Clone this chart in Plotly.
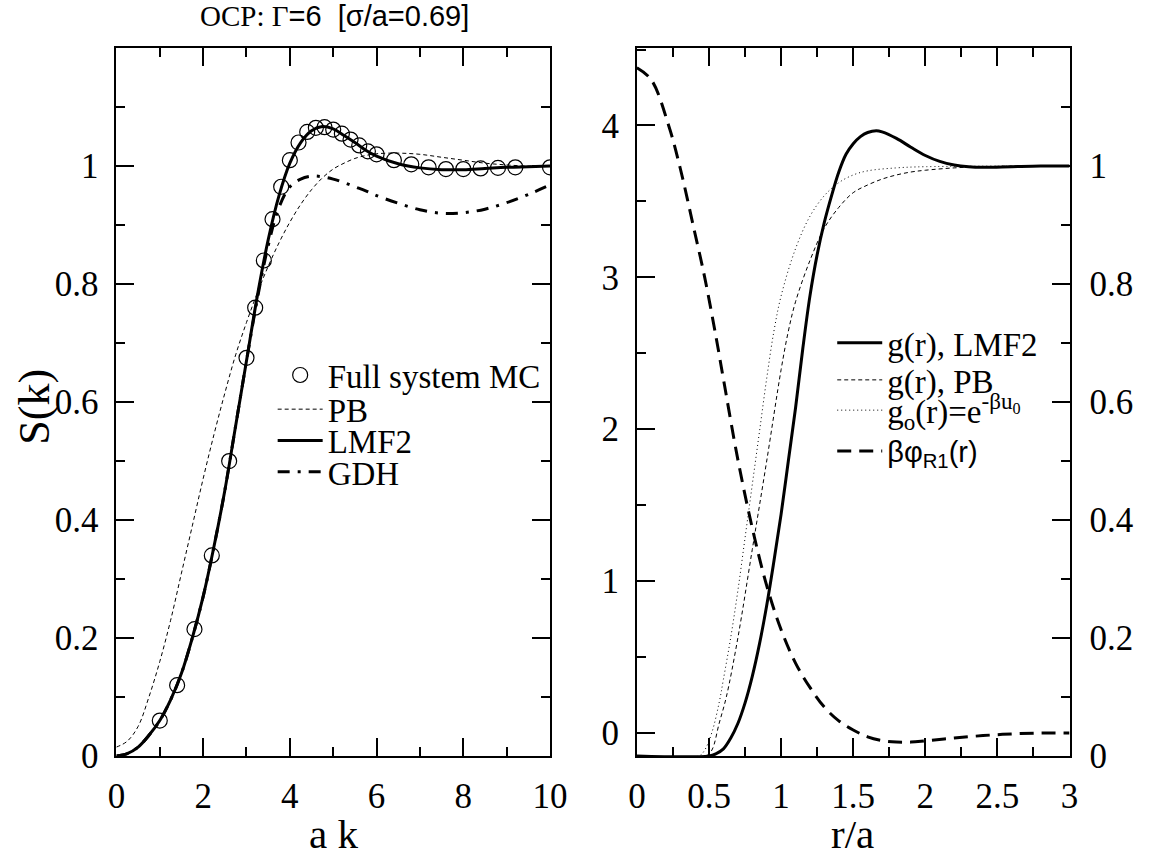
import plotly.graph_objects as go

# ---------------- Left panel data: S(k) ----------------
k_mc = [1.0, 1.4, 1.8, 2.2, 2.6, 3.0, 3.2, 3.4, 3.6, 3.8, 4.0, 4.2, 4.4, 4.6, 4.8,
        5.0, 5.2, 5.4, 5.6, 5.8, 6.0, 6.4, 6.8, 7.2, 7.6, 8.0, 8.4, 8.8, 9.2, 10.0]
s_mc = [0.06, 0.12, 0.215, 0.34, 0.50, 0.675, 0.76, 0.84, 0.91, 0.965, 1.01, 1.04, 1.058,
        1.065, 1.066, 1.062, 1.055, 1.045, 1.035, 1.025, 1.02, 1.01, 1.003, 0.998, 0.995,
        0.995, 0.996, 0.997, 0.998, 0.998]

k_grid = [0, 0.25, 0.5, 0.75, 1.0, 1.25, 1.5, 1.75, 2.0, 2.25, 2.5, 2.75, 3.0, 3.25, 3.5,
          3.75, 4.0, 4.25, 4.5, 4.75, 5.0, 5.25, 5.5, 5.75, 6.0, 6.5, 7.0, 7.5, 8.0, 8.5,
          9.0, 9.5, 10.0]
s_lmf2 = [0.0, 0.004, 0.015, 0.035, 0.06, 0.095, 0.14, 0.2, 0.27, 0.355, 0.45, 0.56, 0.67,
          0.78, 0.875, 0.95, 1.005, 1.04, 1.06, 1.067, 1.063, 1.052, 1.04, 1.027, 1.017,
          1.004, 0.997, 0.994, 0.994, 0.996, 0.998, 0.999, 1.0]
s_pb = [0.015, 0.025, 0.05, 0.1, 0.16, 0.23, 0.31, 0.39, 0.47, 0.545, 0.615, 0.68, 0.735,
        0.785, 0.83, 0.87, 0.905, 0.935, 0.96, 0.98, 0.995, 1.005, 1.013, 1.018, 1.021,
        1.022, 1.02, 1.015, 1.01, 1.005, 1.002, 1.0, 1.0]
s_gdh = [0.0, 0.004, 0.015, 0.035, 0.06, 0.095, 0.14, 0.2, 0.27, 0.355, 0.45, 0.56, 0.67,
         0.775, 0.865, 0.93, 0.965, 0.978, 0.983, 0.982, 0.978, 0.972, 0.965, 0.958, 0.95,
         0.937, 0.926, 0.92, 0.921, 0.927, 0.938, 0.952, 0.968]

# ---------------- Right panel data: g(r), phi ----------------
r_lmf2 = [0.0, 0.5, 0.55, 0.6, 0.65, 0.7, 0.75, 0.8, 0.85, 0.9, 0.95, 1.0, 1.05, 1.1, 1.15,
          1.2, 1.25, 1.3, 1.35, 1.4, 1.45, 1.5, 1.55, 1.6, 1.66, 1.7, 1.8, 1.9, 2.0, 2.1,
          2.2, 2.3, 2.4, 2.6, 2.8, 3.0]
g_lmf2 = [0.0, 0.0, 0.004, 0.012, 0.03, 0.055, 0.09, 0.135, 0.19, 0.255, 0.33, 0.41, 0.5,
          0.59, 0.69, 0.78, 0.85, 0.905, 0.95, 0.99, 1.02, 1.038, 1.05, 1.057, 1.06, 1.058,
          1.047, 1.032, 1.018, 1.008, 1.002, 0.999, 0.998, 0.999, 1.0, 1.0]

r_pb = [0.0, 0.48, 0.52, 0.57, 0.62, 0.7, 0.8, 0.9, 1.0, 1.05, 1.1, 1.2, 1.3, 1.4, 1.5, 1.6,
        1.7, 1.8, 1.9, 2.0, 2.2, 2.4, 2.6, 3.0]
g_pb = [0.0, 0.0, 0.01, 0.055, 0.1, 0.2, 0.35, 0.5, 0.655, 0.72, 0.77, 0.84, 0.895, 0.93,
        0.955, 0.968, 0.978, 0.985, 0.99, 0.993, 0.997, 0.999, 1.0, 1.0]

r_g0 = [0.0, 0.43, 0.47, 0.52, 0.57, 0.6, 0.65, 0.7, 0.75, 0.8, 0.85, 0.9, 0.95, 1.0, 1.1,
        1.2, 1.3, 1.4, 1.5, 1.6, 1.8, 2.0, 3.0]
g_g0 = [0.0, 0.0, 0.01, 0.04, 0.09, 0.13, 0.2, 0.28, 0.37, 0.46, 0.55, 0.64, 0.72, 0.78,
        0.86, 0.915, 0.95, 0.972, 0.985, 0.992, 0.997, 0.999, 1.0]

r_phi = [0.0, 0.1, 0.22, 0.3, 0.4, 0.47, 0.55, 0.6, 0.7, 0.8, 0.9, 1.0, 1.1, 1.2, 1.3, 1.4,
         1.5, 1.6, 1.7, 1.8, 1.9, 2.0, 2.2, 2.4, 2.6, 2.8, 3.0]
phi = [4.38, 4.3, 4.0, 3.72, 3.3, 3.0, 2.6, 2.33, 1.8, 1.35, 0.97, 0.68, 0.46, 0.3, 0.17,
       0.08, 0.02, -0.025, -0.05, -0.06, -0.06, -0.052, -0.033, -0.017, -0.006, 0.0, 0.0]

# tick labels
left_xticks = [0, 2, 4, 6, 8, 10]
left_yticks = [0, 0.2, 0.4, 0.6, 0.8, 1.0]
left_yticktext = ["0", "0.2", "0.4", "0.6", "0.8", "1"]
right_xticks = [0, 0.5, 1, 1.5, 2, 2.5, 3]
right_xticktext = ["0", "0.5", "1", "1.5", "2", "2.5", "3"]
phi_yticks = [0, 1, 2, 3, 4]
g_yticks = [0, 0.2, 0.4, 0.6, 0.8, 1.0]
g_yticktext = ["0", "0.2", "0.4", "0.6", "0.8", "1"]

W, H = 1151, 857
SERIF = "Liberation Serif"
SANS = "Liberation Sans"
TICKF = dict(family=SERIF, size=35, color="black")
LEGF = dict(family=SERIF, size=33, color="black")


def px(x):
    return x / W


def py(y):
    return 1 - y / H


fig = go.Figure()

# left panel traces
fig.add_trace(go.Scatter(x=k_mc, y=s_mc, mode="markers", name="Full system MC",
                         marker=dict(symbol="circle-open", size=15, color="black",
                                     line=dict(width=1.2, color="black")),
                         xaxis="x", yaxis="y", legend="legend"))
fig.add_trace(go.Scatter(x=k_grid, y=s_pb, mode="lines", name="PB", line_shape="spline",
                         line=dict(color="black", width=1, dash="4px,3px"),
                         xaxis="x", yaxis="y", legend="legend2"))
fig.add_trace(go.Scatter(x=k_grid, y=s_lmf2, mode="lines", name="LMF2", line_shape="spline",
                         line=dict(color="black", width=3),
                         xaxis="x", yaxis="y", legend="legend3"))
fig.add_trace(go.Scatter(x=k_grid, y=s_gdh, mode="lines", name="GDH", line_shape="spline",
                         line=dict(color="black", width=3, dash="12px,8px,3px,8px"),
                         xaxis="x", yaxis="y", legend="legend4"))

# right panel traces
fig.add_trace(go.Scatter(x=r_lmf2, y=g_lmf2, mode="lines", name="g(r), LMF2", line_shape="spline",
                         line=dict(color="black", width=3),
                         xaxis="x2", yaxis="y3", legend="legend5"))
fig.add_trace(go.Scatter(x=r_pb, y=g_pb, mode="lines", name="g(r), PB", line_shape="spline",
                         line=dict(color="black", width=1, dash="4px,3px"),
                         xaxis="x2", yaxis="y3", legend="legend6"))
fig.add_trace(go.Scatter(x=r_g0, y=g_g0, mode="lines",
                         name="g<sub>o</sub>(r)=e<sup>-βu<sub>0</sub></sup>", line_shape="spline",
                         line=dict(color="black", width=1, dash="1px,3px"),
                         xaxis="x2", yaxis="y3", legend="legend7"))
fig.add_trace(go.Scatter(x=r_phi, y=phi, mode="lines", name="βφ<sub>R1</sub>(r)", line_shape="spline",
                         line=dict(color="black", width=3, dash="14px,8px"),
                         xaxis="x2", yaxis="y2", legend="legend8"))

xl0, xl1 = px(110), px(554)
xr0, xr1 = px(643), px(1086)
yb, yt = py(774), py(49.3)

common = dict(showline=True, linecolor="black", linewidth=2, ticks="inside",
              tickcolor="black", tickwidth=2, ticklen=18, showgrid=False, zeroline=False,
              tickfont=TICKF)


def minor(d):
    return dict(ticks="inside", ticklen=9, tickwidth=2, tickcolor="black", dtick=d,
                tick0=0, showgrid=False)


legend_common = dict(bgcolor="rgba(0,0,0,0)", borderwidth=0, xanchor="left",
                     yanchor="middle", itemwidth=45, tracegroupgap=0)


def leg(x, y, font=LEGF):
    d = dict(legend_common)
    d.update(x=px(x), y=py(y), font=font)
    return d


fig.update_layout(
    width=W, height=H, margin=dict(l=0, r=0, t=0, b=0),
    paper_bgcolor="white", plot_bgcolor="white", showlegend=True,
    xaxis=dict(domain=[xl0, xl1], anchor="y", range=[0, 10], tickmode="array",
               tickvals=left_xticks, mirror="ticks", minor=minor(1),
               ticklabelstandoff=8, **common),
    yaxis=dict(domain=[yb, yt], anchor="x", range=[0, 1.2], tickmode="array",
               tickvals=left_yticks, ticktext=left_yticktext, mirror="ticks",
               minor=minor(0.1), ticklabelstandoff=9, **common),
    xaxis2=dict(domain=[xr0, xr1], anchor="y2", range=[0, 3], tickmode="array",
                tickvals=right_xticks, ticktext=right_xticktext, mirror="ticks",
                minor=minor(0.25), ticklabelstandoff=8, **common),
    yaxis2=dict(domain=[yb, yt], anchor="x2", range=[-0.151, 4.509], tickmode="array",
                tickvals=phi_yticks, minor=minor(0.5), ticklabelstandoff=9, **common),
    yaxis3=dict(domain=[yb, yt], anchor="x2", overlaying="y2", side="right", range=[0, 1.2],
                tickmode="array", tickvals=g_yticks, ticktext=g_yticktext,
                minor=minor(0.1), ticklabelstandoff=11, **common),
    legend=leg(270, 384),
    legend2=leg(270, 419),
    legend3=leg(270, 451),
    legend4=leg(270, 483),
    legend5=leg(843, 351),
    legend6=leg(843, 389),
    legend7=leg(843, 420),
    legend8=leg(843, 462, font=dict(family=SANS, size=29, color="black")),
)

# titles as text annotations
fig.add_annotation(x=px(333), y=py(16), xref="paper", yref="paper", showarrow=False,
                   xanchor="center", yanchor="middle",
                   text='<span style="font-family:Liberation Serif">OCP: Γ</span>'
                        '<span style="font-family:Liberation Sans">=6&nbsp;&nbsp;[σ/a=0.69]</span>',
                   font=dict(family=SANS, size=29, color="black"))
fig.add_annotation(x=px(332), y=py(854), xref="paper", yref="paper", showarrow=False,
                   xanchor="center", yanchor="middle",
                   text="a k", font=dict(family=SERIF, size=41, color="black"))
fig.add_annotation(x=px(864), y=py(854), xref="paper", yref="paper", showarrow=False,
                   xanchor="center", yanchor="middle",
                   text="r/a", font=dict(family=SERIF, size=41, color="black"))
fig.add_annotation(x=px(26), y=py(416), xref="paper", yref="paper", showarrow=False,
                   xanchor="center", yanchor="middle",
                   text="S(k)", textangle=-90, font=dict(family=SERIF, size=44, color="black"))

fig.write_html("out.html")
